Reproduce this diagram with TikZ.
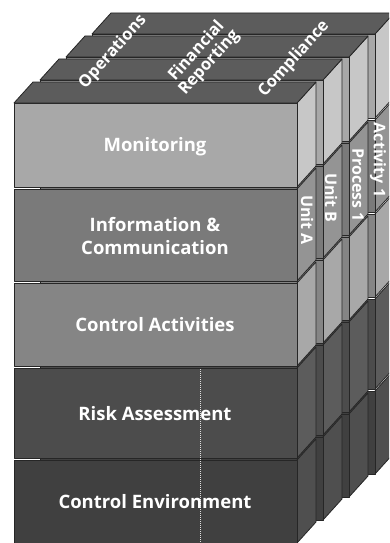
\documentclass[tikz,border=0pt]{standalone}
\usepackage{fontspec}
\setmainfont{Open Sans}
\usetikzlibrary{positioning}
\definecolor{monF}{gray}{0.66}
\definecolor{monR}{gray}{0.78}
\definecolor{infF}{gray}{0.48}
\definecolor{infR}{gray}{0.58}
\definecolor{actF}{gray}{0.52}
\definecolor{actR}{gray}{0.66}
\definecolor{riskF}{gray}{0.30}
\definecolor{riskR}{gray}{0.36}
\definecolor{envF}{gray}{0.25}
\definecolor{envR}{gray}{0.31}
\definecolor{topG}{gray}{0.36}

\begin{document}
\begin{tikzpicture}[x=1pt, y=-1pt,
  face/.style={draw=black!85, line width=0.8pt, line join=round},
  lbl/.style={text=white, font=\bfseries\fontsize{18.5}{23}\selectfont, align=center},
  toplbl/.style={text=white, font=\bfseries\fontsize{16.5}{17}\selectfont, align=center, rotate=48, inner sep=1pt},
  sidelbl/.style={text=white, font=\bfseries\fontsize{16}{17}\selectfont, rotate=-90, inner sep=1pt}]
  \useasboundingbox (0,0) rectangle (389,543);
  \clip (0,0) rectangle (389,543);
  % slabs from back to front
  \foreach \k in {3,2,1,0} {
    \pgfmathsetmacro{\dx}{26*\k}
    \pgfmathsetmacro{\dy}{-23*\k}
    \begin{scope}[shift={(\dx,\dy)}]
      \foreach \yt/\yb/\cf/\cr in {103/187/monF/monR, 189/281/infF/infR,
          283/366/actF/actR, 368/458/riskF/riskR, 460/543/envF/envR} {
        \draw[face, fill=\cr] (297,\yt) -- (316,\yt-21) -- (316,\yb-21) -- (297,\yb) -- cycle;
        \draw[face, fill=\cf] (14,\yt) rectangle (297,\yb);
      }
      % top face
      \draw[face, fill=topG] (14,103) -- (297,103) -- (316,82) -- (33,82) -- cycle;
    \end{scope}
  }
  % column boundary
  \draw[white!75!gray, densely dotted, line width=1pt] (200,369) -- (200,543);
  % components
  \node[lbl] (mon) at (155,147) {Monitoring};
  \node[lbl] (info) at (155,236) {Information \&\\Communication};
  \node[lbl] (ctrlact) at (155,325) {Control Activities};
  \node[lbl] (risk) at (155,414) {Risk Assessment};
  \node[lbl] (ctrlenv) at (155,502) {Control Environment};
  % objectives
  \node[toplbl] (ops) at (113,52) {Operations};
  \node[toplbl] (finrep) at (203,57) {Financial\\Reporting};
  \node[toplbl] (compl) at (294,59) {Compliance};
  % entity levels
  \node[sidelbl] (unita) at (307,220) {Unit A};
  \node[sidelbl] (unitb) at (331,198) {Unit B};
  \node[sidelbl] (proc) at (358,185) {Process 1};
  \node[sidelbl] (act) at (378,160) {Activity 1};
\end{tikzpicture}
\end{document}
